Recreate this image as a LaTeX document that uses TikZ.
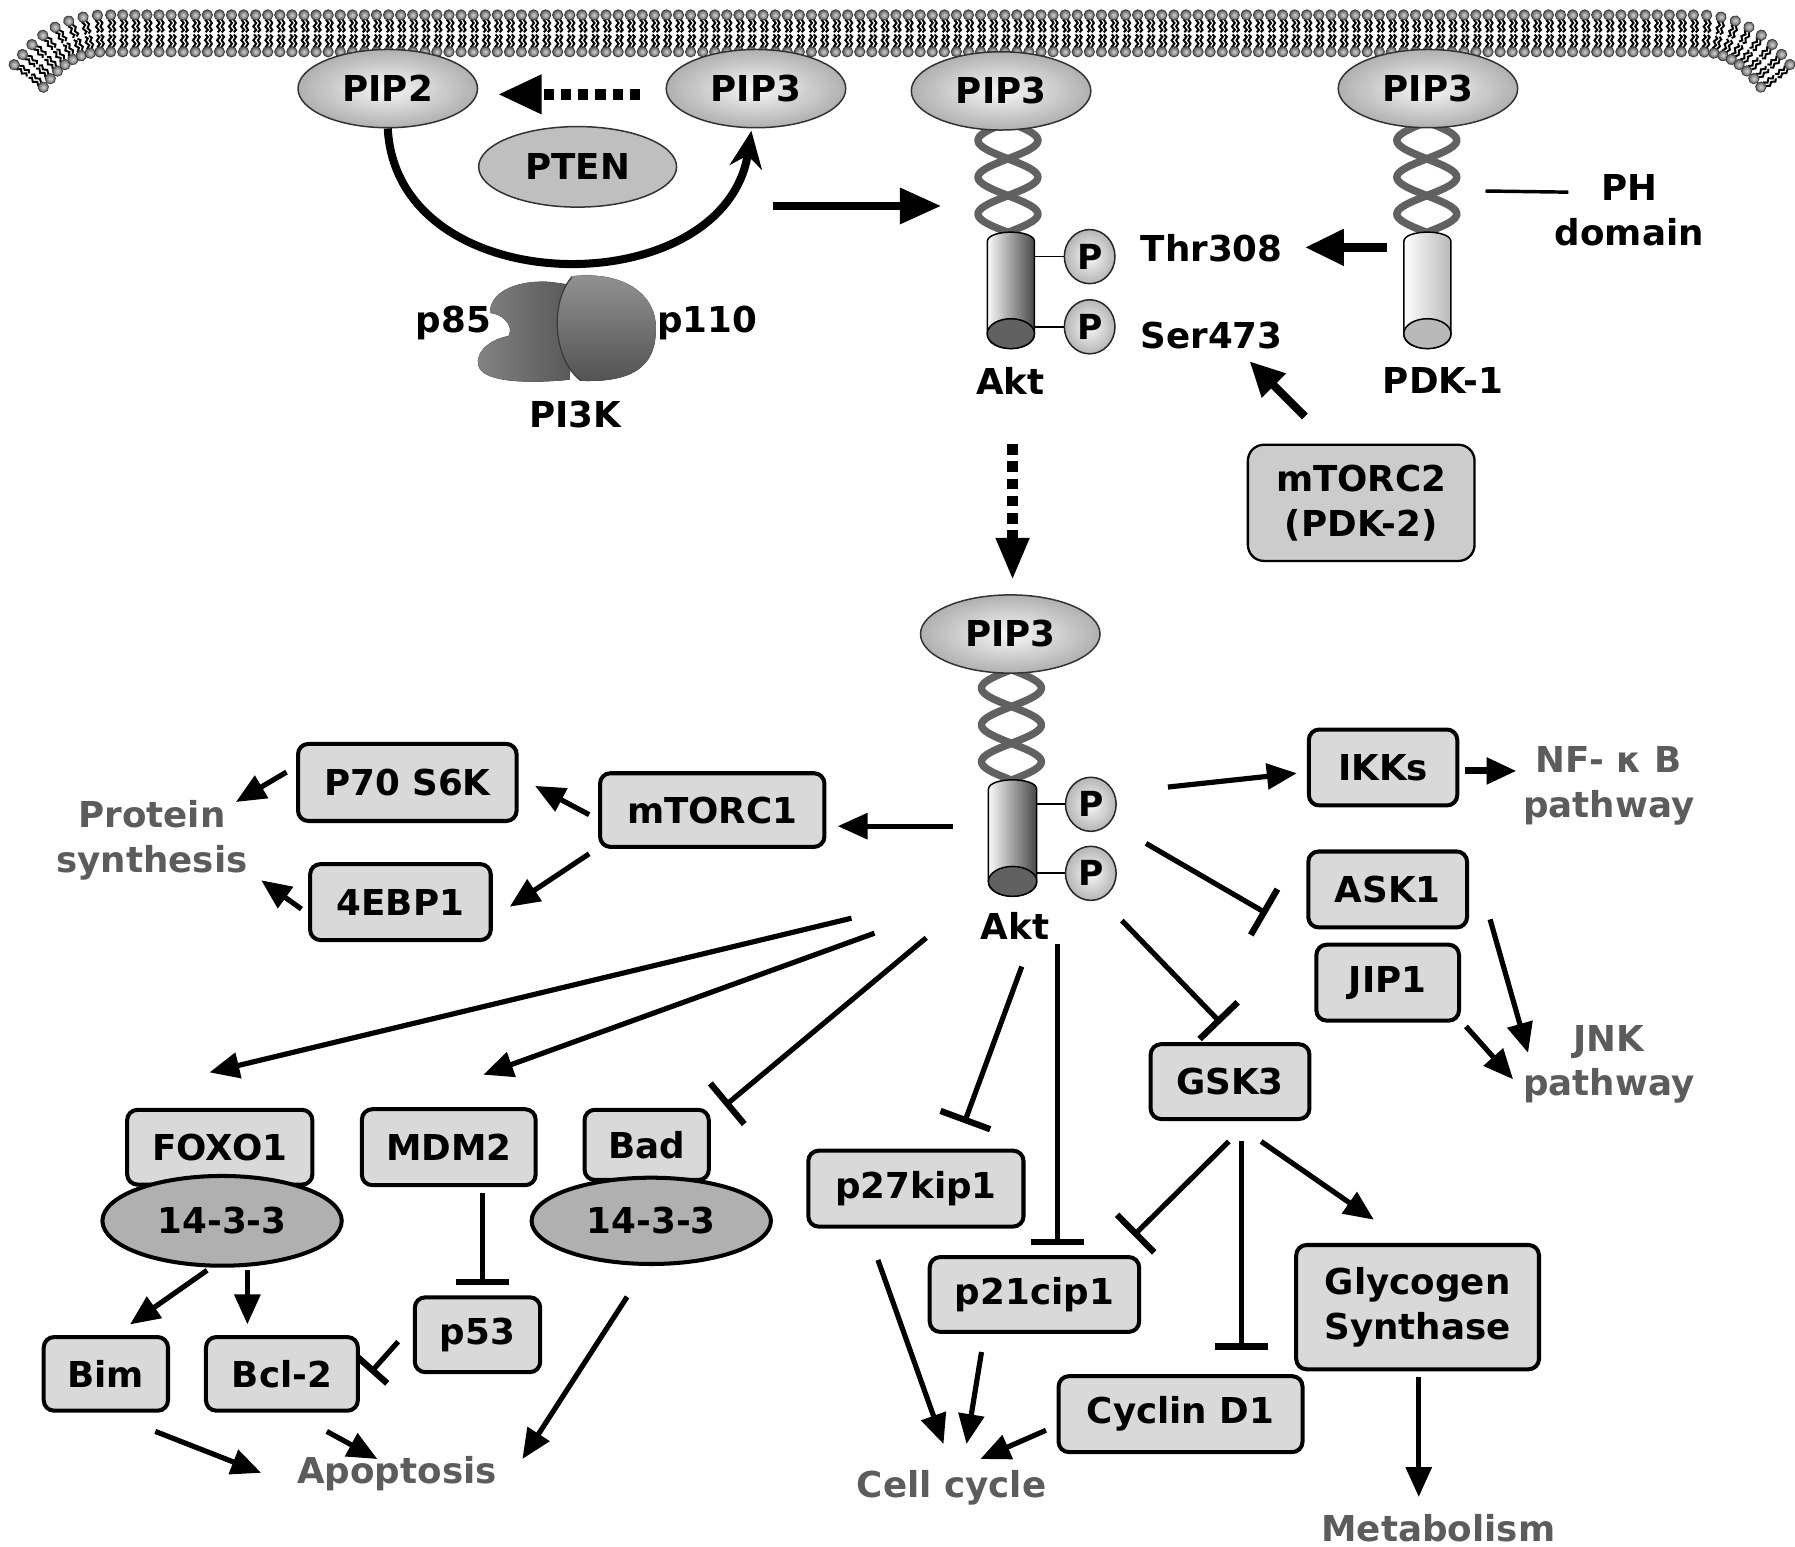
\documentclass[tikz,border=0pt]{standalone}
\usepackage{fontspec}
\setmainfont{DejaVu Sans}
\usetikzlibrary{arrows.meta,shapes.geometric,decorations.markings,calc}
\definecolor{boxg}{gray}{0.85}
\definecolor{ellg}{gray}{0.69}
\definecolor{mtg}{gray}{0.80}
\definecolor{txg}{gray}{0.36}
\definecolor{helg}{gray}{0.38}
\newcommand{\bigf}{\bfseries\fontsize{31}{39}\selectfont}
\newcommand{\phhelix}[2]{%
  \draw[helixline] plot[domain=0:3,samples=91,variable=\t] ({#1+26*sin(\t*180)},{#2+\t*32});
  \draw[helixline] plot[domain=0:3,samples=91,variable=\t] ({#1-26*sin(\t*180)},{#2+\t*32});
}
\begin{document}
\begin{tikzpicture}[x=1pt,y=-1pt,
  box/.style={draw=black,line width=3.5pt,rounded corners=9pt,fill=boxg,font=\bigf,inner sep=0pt,align=center},
  pip/.style={ellipse,draw=black!80,line width=1.3pt,inner color=gray!6,outer color=gray!62,minimum width=156pt,minimum height=68pt,font=\bigf,inner sep=0pt},
  pcirc/.style={ellipse,draw=black!85,line width=1.3pt,inner color=gray!5,outer color=gray!58,minimum width=44pt,minimum height=47pt,inner sep=0pt,font=\bfseries\fontsize{30}{32}\selectfont},
  lab/.style={font=\bigf,inner sep=0pt,align=center},
  glab/.style={font=\bigf,text=txg,inner sep=0pt,align=center},
  ell/.style={ellipse,draw=black,line width=3.5pt,fill=ellg,font=\bigf,inner sep=0pt},
  act/.style={line width=4.5pt,-{Triangle[length=26pt,width=22pt]}},
  inh/.style={line width=4.5pt,-{Bar[width=46pt,line width=5.5pt]}},
  helixline/.style={line width=6.5pt,draw=helg,line cap=round},
  conn/.style={line width=1.5pt},
  membrane/.style={decoration={markings,mark=between positions 0 and 1 step 10.5pt with {
     \draw[black,line width=1.7pt] (-2pt,12pt) -- (0.5pt,9pt) -- (-2pt,6pt) -- (0.5pt,3pt) -- (-1.5pt,1pt);
     \draw[black,line width=1.7pt] (2pt,12pt) -- (4pt,9pt) -- (2pt,6pt) -- (4pt,3pt) -- (2pt,1pt);
     \draw[black,line width=1.7pt] (-2pt,-12pt) -- (0.5pt,-9pt) -- (-2pt,-6pt) -- (0.5pt,-3pt) -- (-1.5pt,-1pt);
     \draw[black,line width=1.7pt] (2pt,-12pt) -- (4pt,-9pt) -- (2pt,-6pt) -- (4pt,-3pt) -- (2pt,-1pt);
     \filldraw[inner color=gray!35,outer color=black!65,draw=black!75,line width=0.7pt] (0,16pt) circle (4.5pt);
     \filldraw[inner color=gray!35,outer color=black!65,draw=black!75,line width=0.7pt] (0,-16pt) circle (4.5pt);}},
     postaction={decorate}}
]
\fill[white] (0,0) rectangle (1560,1344);
\useasboundingbox (0,0) rectangle (1560,1344);

% membrane
\path[membrane] (25,66) .. controls (42,44) and (60,29) .. (92,29) -- (1476,29) .. controls (1508,29) and (1526,44) .. (1543,66);

% PH domains (helices)
\phhelix{876}{106}
\phhelix{1240}{106}
\phhelix{879}{582}

% cylinders
\draw[line width=1.3pt,left color=gray!4,right color=black!72] (858,290) -- (858,210) .. controls (858,199) and (899,199) .. (899,210) -- (899,290) .. controls (899,307) and (858,307) .. (858,290) -- cycle;
\draw[line width=1.3pt,fill=black!62] (878.5,290) ellipse [x radius=20.5pt,y radius=13pt];
\draw[line width=1.3pt,left color=white,right color=gray!55] (1220,290) -- (1220,210) .. controls (1220,199) and (1261,199) .. (1261,210) -- (1261,290) .. controls (1261,307) and (1220,307) .. (1220,290) -- cycle;
\draw[line width=1.3pt,fill=gray!55] (1240.5,290) ellipse [x radius=20.5pt,y radius=13pt];
\draw[line width=1.3pt,left color=gray!4,right color=black!72] (859,766) -- (859,686) .. controls (859,675) and (901,675) .. (901,686) -- (901,766) .. controls (901,783) and (859,783) .. (859,766) -- cycle;
\draw[line width=1.3pt,fill=black!62] (880,766) ellipse [x radius=21pt,y radius=13pt];

% PIP ellipses
\node[pip] (pip2) at (337,77) {PIP2};
\node[pip] (pip3a) at (657,77) {PIP3};
\node[pip] (pip3b) at (870,79) {PIP3};
\node[pip] (pip3c) at (1241,77) {PIP3};
\node[pip] (pip3d) at (878,551) {PIP3};
\node[ellipse,draw=black!80,line width=1.3pt,fill=gray!50,minimum width=172pt,minimum height=70pt,font=\bigf,inner sep=0pt] (pten) at (502,145) {PTEN};

% PTEN dotted arrow and PI3K curved arrow
\draw[line width=9pt,dash pattern=on 9pt off 6pt,-{Triangle[length=38pt,width=32pt]}] ($(pip3a.west)+(-22,5)$) -- ($(pip2.east)+(17,5)$);
\draw[line width=7pt,-{Stealth[length=32pt,width=28pt]}] (pip2.south) .. controls (345,265) and (630,265) .. ($(pip3a.south)+(-4,2)$);

% PI3K
\fill[left color=black!48,right color=black!66] (478,245) .. controls (445,243) and (425,256) .. (426,272) .. controls (436,273) and (447,282) .. (442,292) .. controls (420,296) and (410,312) .. (418,322) .. controls (428,333) and (465,333) .. (495,330) -- (500,248) -- cycle;
\fill[top color=black!42,bottom color=black!68] (497,240) .. controls (545,235) and (571,258) .. (570,286) .. controls (570,312) and (558,333) .. (505,331) .. controls (480,312) and (478,262) .. (497,240) -- cycle;
\draw[black!78,line width=1pt] (497,241) .. controls (478,262) and (480,312) .. (505,331);
\node[lab,anchor=east] (p85) at (427,281) {p85};
\node[lab,anchor=west] (p110) at (571,281) {p110};
\node[lab] (pi3k) at (500,360) {PI3K};

% big arrow to Akt
\coordinate (bs) at (672,179);
\coordinate (be) at (818,179);
\draw[line width=7pt,-{Triangle[length=36pt,width=30pt]}] (bs) -- (be);

% phospho sites upper
\node[pcirc] (pt1) at (947,223) {P};
\node[pcirc] (ps1) at (947,284) {P};
\coordinate (c1) at (899,223);
\coordinate (c2) at (899,284);
\draw[conn] (c1) -- (pt1.west);
\draw[conn] (c2) -- (ps1.west);
\node[lab] (thr) at (1053,216) {Thr308};
\node[lab] (ser) at (1053,292) {Ser473};
\node[lab] (akt1) at (878,331) {Akt};
\node[lab] (pdk1) at (1254,331) {PDK-1};
\node[lab] (ph) at (1416,183) {PH\\domain};
\coordinate (phs) at (1291,166);
\coordinate (phe) at (1363,167);
\draw[line width=3pt] (phs) -- (phe);
\coordinate (pdks) at (1205,215);
\coordinate (pdke) at (1134,215);
\draw[line width=8pt,-{Triangle[length=34pt,width=30pt]}] (pdks) -- (pdke);
\node[box,line width=2pt,fill=mtg,rounded corners=14pt,minimum width=197pt,minimum height=101pt] (mtorc2) at (1183,437) {mTORC2\\(PDK-2)};
\coordinate (m2s) at (1134,362);
\coordinate (m2e) at (1086,314);
\draw[line width=7pt,-{Triangle[length=30pt,width=28pt]}] (m2s) -- (m2e);

% dotted arrow down
\coordinate (ds) at (880,386);
\draw[line width=9pt,dash pattern=on 9pt off 6pt,-{Triangle[length=37pt,width=27pt]}] (ds) -- ($(pip3d.north)+(2,-12)$);

% phospho sites lower
\node[pcirc] (pt2) at (948,699) {P};
\node[pcirc] (ps2) at (948,759) {P};
\coordinate (c3) at (901,699);
\coordinate (c4) at (901,759);
\draw[conn] (c3) -- (pt2.west);
\draw[conn] (c4) -- (ps2.west);
\node[lab] (akt2) at (882,805) {Akt};

% boxes
\node[box,minimum width=190pt,minimum height=67pt] (p70) at (354,680) {P70 S6K};
\node[box,minimum width=195pt,minimum height=64pt] (mtorc1) at (619,704) {mTORC1};
\node[box,minimum width=157pt,minimum height=66pt] (ebp) at (348,784) {4EBP1};
\node[glab] (prot) at (132,730) {Protein\\synthesis};
\node[box,minimum width=129pt,minimum height=66pt] (ikk) at (1202,667) {IKKs};
\node[glab] (nfkb) at (1398,683) {NF- κ B\\pathway};
\node[box,minimum width=138pt,minimum height=66pt] (ask) at (1206,773) {ASK1};
\node[box,minimum width=124pt,minimum height=66pt] (jip) at (1206,854) {JIP1};
\node[glab] (jnk) at (1398,925) {JNK\\pathway};
\node[box,minimum width=138pt,minimum height=65pt] (gsk) at (1069,940) {GSK3};
\node[box,minimum width=161pt,minimum height=65pt] (foxo) at (191,997) {FOXO1};
\node[box,minimum width=151pt,minimum height=66pt] (mdm) at (390,997) {MDM2};
\node[box,minimum width=108pt,minimum height=61pt] (bad) at (562,995) {Bad};
\node[ell,minimum width=208pt,minimum height=78pt] (e1433a) at (193,1061) {14-3-3};
\node[ell,minimum width=208pt,minimum height=75pt] (e1433b) at (566,1061) {14-3-3};
\node[box,minimum width=109pt,minimum height=65pt] (p53) at (415,1160) {p53};
\node[box,minimum width=108pt,minimum height=64pt] (bim) at (92,1194) {Bim};
\node[box,minimum width=132pt,minimum height=64pt] (bcl) at (245,1194) {Bcl-2};
\node[glab] (apo) at (345,1281) {Apoptosis};
\node[box,minimum width=187pt,minimum height=66pt] (p27) at (796,1033) {p27kip1};
\node[box,minimum width=182pt,minimum height=65pt] (p21) at (899,1125) {p21cip1};
\node[box,minimum width=211pt,minimum height=108pt] (gs) at (1232,1136) {Glycogen\\Synthase};
\node[box,minimum width=212pt,minimum height=66pt] (cyc) at (1026,1229) {Cyclin D1};
\node[glab] (cell) at (827,1293) {Cell cycle};
\node[glab] (meta) at (1250,1328) {Metabolism};

% connector end points
\coordinate (a-m1s) at (828,718);   \coordinate (a-m1e) at (728,718);
\coordinate (m1-p70s) at (512,708); \coordinate (m1-p70e) at (465,683);
\coordinate (m1-ebs) at (512,742);  \coordinate (m1-ebe) at (443,788);
\coordinate (p70-ps) at (249,671);  \coordinate (p70-pe) at (205,697);
\coordinate (eb-ps) at (262,790);   \coordinate (eb-pe) at (227,765);
\coordinate (a-fs) at (740,798);    \coordinate (a-fe) at (182,932);
\coordinate (a-ms) at (760,811);    \coordinate (a-me) at (420,934);
\coordinate (a-bs) at (805,815);    \coordinate (a-be) at (630,961);
\coordinate (md-ps) at (419,1037);  \coordinate (md-pe) at (419,1117);
\coordinate (p53-bs) at (346,1166); \coordinate (p53-be) at (322,1193);
\coordinate (e-bims) at (180,1104); \coordinate (e-bime) at (113,1151);
\coordinate (e-bcls) at (215,1104); \coordinate (e-bcle) at (215,1151);
\coordinate (bim-as) at (135,1244); \coordinate (bim-ae) at (227,1280);
\coordinate (bcl-as) at (284,1244); \coordinate (bcl-ae) at (328,1268);
\coordinate (e2-as) at (545,1127);  \coordinate (e2-ae) at (454,1268);
\coordinate (a-p27s) at (888,840);  \coordinate (a-p27e) at (838,976);
\coordinate (a-p21s) at (919,820);  \coordinate (a-p21e) at (919,1082);
\coordinate (a-gs) at (975,800);    \coordinate (a-ge) at (1061,889);
\coordinate (a-asks) at (996,733);  \coordinate (a-aske) at (1101,794);
\coordinate (a-iks) at (1015,684);  \coordinate (a-ike) at (1127,672);
\coordinate (ik-ns) at (1273,670);  \coordinate (ik-ne) at (1318,670);
\coordinate (ask-js) at (1295,799); \coordinate (ask-je) at (1328,915);
\coordinate (jip-js) at (1274,892); \coordinate (jip-je) at (1315,938);
\coordinate (g-p21s) at (1068,992); \coordinate (g-p21e) at (985,1074);
\coordinate (g-cs) at (1079,992);   \coordinate (g-ce) at (1079,1173);
\coordinate (g-gss) at (1096,992);  \coordinate (g-gse) at (1194,1060);
\coordinate (gs-ms) at (1233,1197); \coordinate (gs-me) at (1233,1301);
\coordinate (p27-cs) at (763,1095); \coordinate (p27-ce) at (820,1255);
\coordinate (p21-cs) at (853,1175); \coordinate (p21-ce) at (840,1255);
\coordinate (cy-cs) at (909,1243);  \coordinate (cy-ce) at (852,1268);

% activations
\draw[act] (a-m1s) -- (a-m1e);
\draw[act] (m1-p70s) -- (m1-p70e);
\draw[act] (m1-ebs) -- (m1-ebe);
\draw[act] (p70-ps) -- (p70-pe);
\draw[act] (eb-ps) -- (eb-pe);
\draw[act] (a-fs) -- (a-fe);
\draw[act] (a-ms) -- (a-me);
\draw[act] (e-bims) -- (e-bime);
\draw[act] (e-bcls) -- (e-bcle);
\draw[act] (bim-as) -- (bim-ae);
\draw[act] (bcl-as) -- (bcl-ae);
\draw[act] (e2-as) -- (e2-ae);
\draw[act] (a-iks) -- (a-ike);
\draw[act,line width=6pt] (ik-ns) -- (ik-ne);
\draw[act] (ask-js) -- (ask-je);
\draw[act] (jip-js) -- (jip-je);
\draw[act] (g-gss) -- (g-gse);
\draw[act] (gs-ms) -- (gs-me);
\draw[act] (p27-cs) -- (p27-ce);
\draw[act] (p21-cs) -- (p21-ce);
\draw[act] (cy-cs) -- (cy-ce);

% inhibitions
\draw[inh] (a-bs) -- (a-be);
\draw[inh] (md-ps) -- (md-pe);
\draw[line width=4.5pt,-{Bar[width=34pt,line width=5.5pt]}] (p53-bs) -- (p53-be);
\draw[inh] (a-p27s) -- (a-p27e);
\draw[inh] (a-p21s) -- (a-p21e);
\draw[inh] (a-gs) -- (a-ge);
\draw[inh] (a-asks) -- (a-aske);
\draw[inh] (g-p21s) -- (g-p21e);
\draw[inh] (g-cs) -- (g-ce);
\end{tikzpicture}
\end{document}
